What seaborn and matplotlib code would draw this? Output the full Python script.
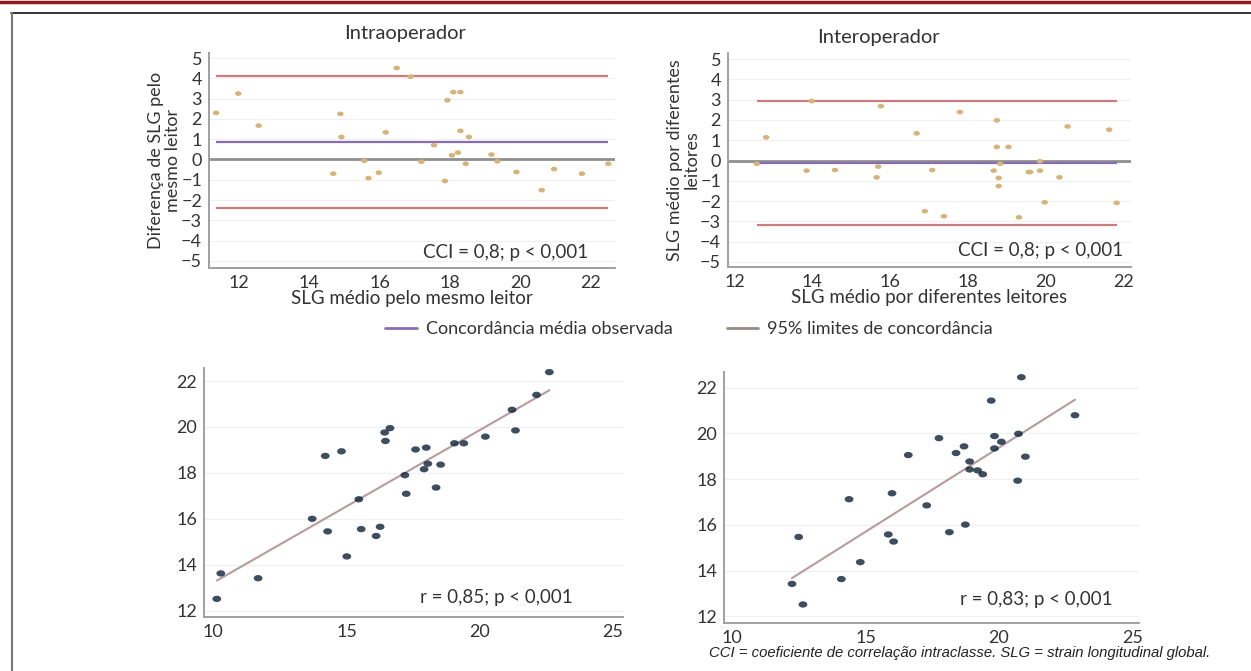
import matplotlib.pyplot as plt
import numpy as np
import pandas as pd
import seaborn as sns
from matplotlib.lines import Line2D
from matplotlib.path import Path

# Bland-Altman, intraoperador (mean SLG vs difference)
intra_mean = [11.35, 11.98, 12.56, 14.68, 14.88, 14.91, 15.56, 15.68, 15.97, 16.17,
              16.48, 16.87, 17.18, 17.54, 17.85, 17.92, 18.05, 18.09, 18.22, 18.29,
              18.29, 18.44, 18.53, 19.17, 19.34, 19.88, 20.60, 20.95, 21.74, 22.49]
intra_diff = [2.30, 3.25, 1.67, -0.70, 2.25, 1.11, -0.06, -0.92, -0.65, 1.34,
              4.51, 4.08, -0.11, 0.71, -1.06, 2.92, 0.21, 3.32, 0.34, 3.32,
              1.41, -0.21, 1.11, 0.24, -0.09, -0.62, -1.51, -0.47, -0.70, -0.21]
intra_lines = [4.13, 0.86, -2.38]  # upper limit, mean, lower limit

# Bland-Altman, interoperador
inter_mean = [12.57, 12.81, 13.85, 13.98, 14.58, 15.65, 15.69, 15.76, 16.68, 16.89,
              17.08, 17.38, 17.79, 18.66, 18.74, 18.74, 18.79, 18.79, 18.83, 19.04,
              19.31, 19.56, 19.60, 19.85, 19.85, 19.97, 20.35, 20.56, 21.63, 21.82]
inter_diff = [-0.16, 1.14, -0.50, 2.93, -0.47, -0.83, -0.30, 2.68, 1.34, -2.50,
              -0.47, -2.75, 2.39, -0.50, 1.98, 0.67, -0.86, -1.26, -0.16, 0.67,
              -2.80, -0.57, -0.57, -0.04, -0.50, -2.06, -0.83, 1.68, 1.52, -2.09]
inter_lines = [2.93, -0.12, -3.19]

# correlation, intraoperador
corr1_x = [10.13, 10.28, 11.68, 13.71, 14.20, 14.29, 14.81, 15.01, 15.46, 15.55,
           16.11, 16.26, 16.43, 16.46, 16.63, 17.19, 17.24, 17.59, 17.91, 17.99,
           18.05, 18.36, 18.53, 19.05, 19.40, 20.21, 21.21, 21.34, 22.13, 22.61]
corr1_y = [12.51, 13.62, 13.41, 16.00, 18.74, 15.45, 18.94, 14.36, 16.85, 15.55,
           15.25, 15.65, 19.76, 19.39, 19.95, 17.90, 17.09, 19.02, 18.16, 19.10,
           18.40, 17.36, 18.36, 19.29, 19.29, 19.58, 20.75, 19.85, 21.40, 22.39]

# correlation, interoperador
corr2_x = [12.24, 12.49, 12.65, 14.09, 14.38, 14.80, 15.85, 15.99, 16.05, 16.60,
           17.29, 17.75, 18.14, 18.39, 18.69, 18.74, 18.90, 18.90, 19.20, 19.39,
           19.71, 19.83, 19.83, 20.09, 20.70, 20.73, 20.84, 20.99, 22.85]
corr2_y = [13.42, 15.47, 12.52, 13.63, 17.12, 14.37, 15.58, 17.38, 15.27, 19.05,
           16.85, 19.79, 15.68, 19.14, 19.43, 16.01, 18.77, 18.42, 18.38, 18.21,
           21.43, 19.88, 19.34, 19.63, 17.93, 19.98, 22.45, 18.98, 20.79]

sns.set_style("white")
plt.rcParams["font.family"] = ["Lato", "DejaVu Sans"]

TAN = "#d5b47a"
LOA = "#cc7c7f"
MEANC = "#8a6cb3"
ZERO = "#8f8f8f"
NAVY = "#0d2236"
SPINE = "#a0a0a0"
TXT = "#333333"

# the source picture is stretched sideways, so dots are little ellipses
_t = np.linspace(0, 2 * np.pi, 40)
ELLIPSE = Path(np.column_stack([np.cos(_t), 0.72 * np.sin(_t)]), closed=True)

fig = plt.figure(figsize=(12.51, 6.71), dpi=100)
W, H = 1251, 671


def px_axes(x0, y0, x1, y1):
    return fig.add_axes([x0 / W, 1 - y1 / H, (x1 - x0) / W, (y1 - y0) / H])


def style(ax, yticks):
    sns.despine(ax=ax)
    for s in ["left", "bottom"]:
        ax.spines[s].set_color(SPINE)
        ax.spines[s].set_linewidth(1.4)
    ax.set_yticks(yticks)
    for t in yticks:
        ax.axhline(t, color="#f0f0f0", lw=0.8, zorder=0)
    ax.tick_params(axis="both", labelsize=13, colors=TXT, length=3,
                   width=0.8, pad=2, color=SPINE)


def bland_altman(ax, xs, ds, lines, xlim, ylim, xlabel, ylabel, txt):
    df = pd.DataFrame({"m": xs, "d": ds})
    ax.axhline(0, color=ZERO, lw=2, zorder=1)
    lo, hi = min(xs), max(xs)
    ax.hlines([lines[0], lines[2]], lo, hi, color=LOA, lw=1.6, zorder=2)
    ax.hlines(lines[1], lo, hi, color=MEANC, lw=1.6, zorder=2)
    sns.scatterplot(data=df, x="m", y="d", ax=ax, color=TAN, s=22, marker=ELLIPSE,
                    edgecolor="none", zorder=3)
    ax.set_xlim(*xlim)
    ax.set_ylim(*ylim)
    style(ax, range(-5, 6))
    ax.set_xticks([12, 14, 16, 18, 20, 22])
    ax.set_xlabel(xlabel, fontsize=13.5, color=TXT, labelpad=-1)
    ax.set_ylabel(ylabel, fontsize=13, color=TXT, labelpad=0,
                  linespacing=1.05)
    ax.text(txt[0], txt[1], "CCI = 0,8; p < 0,001", transform=ax.transAxes,
            ha="right", va="center", fontsize=13.5, color=TXT)


def corr(ax, xs, ys, xlim, ylim, txt, label):
    df = pd.DataFrame({"x": xs, "y": ys})
    sns.regplot(data=df, x="x", y="y", ax=ax, ci=None, marker=ELLIPSE,
                scatter_kws={"s": 40, "color": NAVY, "edgecolor": "none", "zorder": 3},
                line_kws={"color": "#b69ba0", "lw": 1.5, "zorder": 2})
    ax.set_xlim(*xlim)
    ax.set_ylim(*ylim)
    style(ax, [12, 14, 16, 18, 20, 22])
    ax.set_xticks([10, 15, 20, 25])
    ax.set_xlabel("")
    ax.set_ylabel("")
    ax.text(txt[0], txt[1], label, transform=ax.transAxes,
            ha="right", va="center", fontsize=13.5, color=TXT)


ax1 = px_axes(209, 53, 615, 268)
bland_altman(ax1, intra_mean, intra_diff, intra_lines, (11.15, 22.68), (-5.35, 5.25),
             "SLG médio pelo mesmo leitor", "Diferença de SLG pelo\nmesmo leitor",
             (0.933, 0.074))

ax2 = px_axes(728, 53, 1131, 267)
bland_altman(ax2, inter_mean, inter_diff, inter_lines, (11.83, 22.19), (-5.25, 5.3),
             "SLG médio por diferentes leitores", "SLG médio por diferentes\nleitores",
             (0.980, 0.079))

ax3 = px_axes(204, 368, 623, 617)
corr(ax3, corr1_x, corr1_y, (9.65, 25.375), (11.72, 22.57), (0.881, 0.080),
     "r = 0,85; p < 0,001")

ax4 = px_axes(724, 372, 1139, 623)
corr(ax4, corr2_x, corr2_y, (9.69, 25.25), (11.71, 22.68), (0.937, 0.092),
     "r = 0,83; p < 0,001")

fig.text(405 / W, 1 - 33 / H, "Intraoperador", ha="center", va="center",
         fontsize=14.5, color=TXT)
fig.text(878 / W, 1 - 38 / H, "Interoperador", ha="center", va="center",
         fontsize=14.5, color=TXT)

handles = [Line2D([], [], color=MEANC, lw=2), Line2D([], [], color="#9b8883", lw=2)]
fig.legend(handles, ["Concordância média observada", "95% limites de concordância"],
           loc="center left", bbox_to_anchor=(385 / W, 1 - 329 / H), ncol=2,
           frameon=False, fontsize=13, handlelength=1.75, handletextpad=0.5,
           columnspacing=3.0, borderpad=0, borderaxespad=0, labelcolor=TXT)

fig.text(1210 / W, 1 - 653 / H,
         "CCI = coeficiente de correlação intraclasse. SLG = strain longitudinal global.",
         ha="right", va="center", fontsize=10.7, style="italic",
         family="Liberation Sans", color="#222222")

# page frame
fig.add_artist(Line2D([0, 1], [1 - 1.5 / H, 1 - 1.5 / H], color="#8b1a1a", lw=2.5,
                      transform=fig.transFigure))
fig.add_artist(Line2D([11 / W, 1], [1 - 13 / H, 1 - 13 / H], color="#111111", lw=1.2,
                      transform=fig.transFigure))
fig.add_artist(Line2D([11.5 / W, 11.5 / W], [0, 1 - 13 / H], color="#777777", lw=1.5,
                      transform=fig.transFigure))

fig.savefig("out.png", dpi=100)
